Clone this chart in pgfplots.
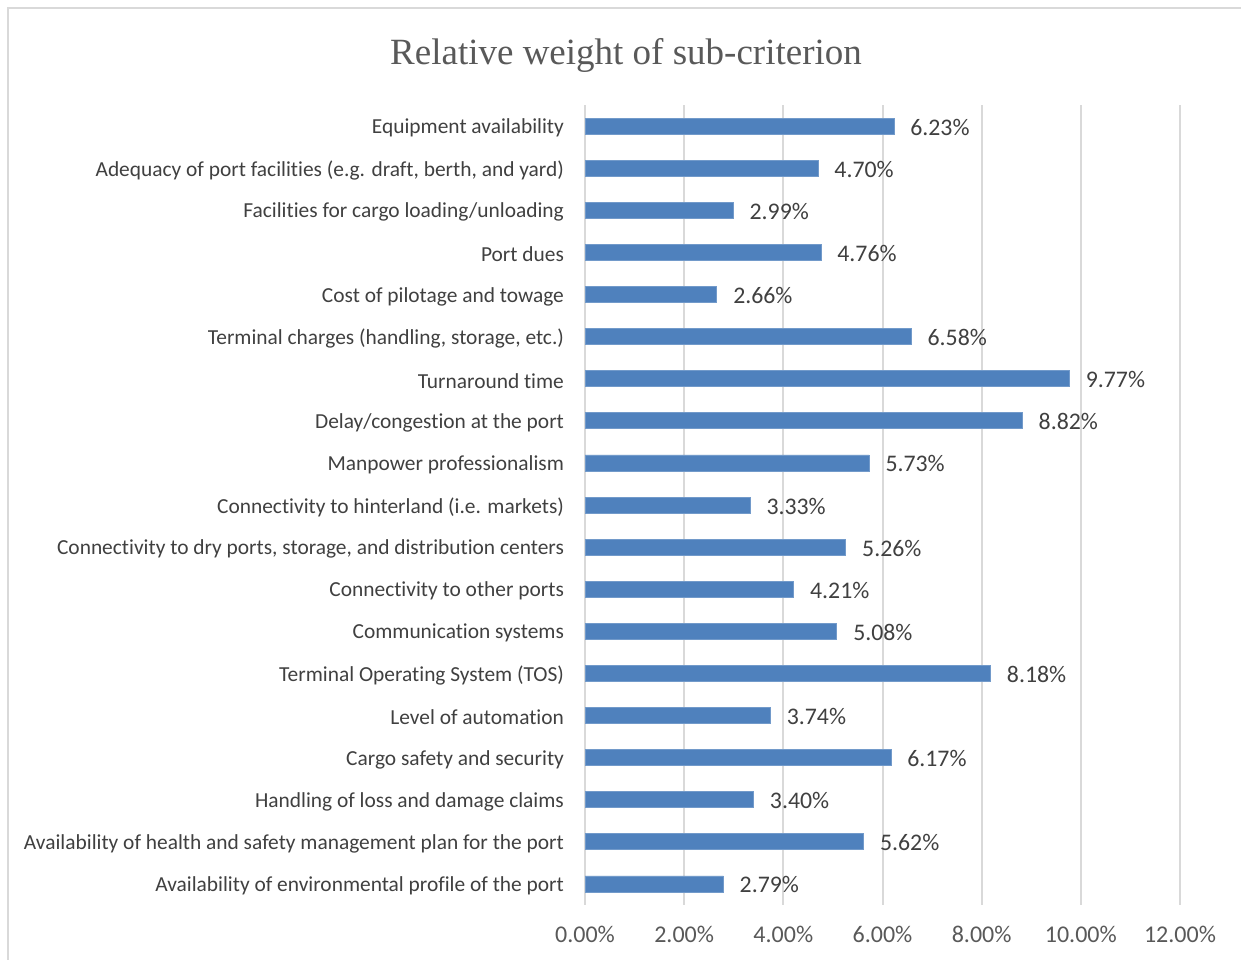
\documentclass[border=0pt]{standalone}
\usepackage{pgfplots}
\pgfplotsset{compat=1.18}
\usepackage{fontspec}
\setmainfont{Carlito}[Ligatures={NoCommon}]
\newfontfamily\titlefont{Liberation Serif}
\definecolor{barblue}{HTML}{4F81BD}
\definecolor{gridgray}{HTML}{D9D9D9}
\definecolor{txt}{HTML}{404040}
\definecolor{ttl}{HTML}{595959}
\pgfplotstableread{
y val lab
0 6.23 6.23\%
1 4.70 4.70\%
2 2.99 2.99\%
3 4.76 4.76\%
4 2.66 2.66\%
5 6.58 6.58\%
6 9.77 9.77\%
7 8.82 8.82\%
8 5.73 5.73\%
9 3.33 3.33\%
10 5.26 5.26\%
11 4.21 4.21\%
12 5.08 5.08\%
13 8.18 8.18\%
14 3.74 3.74\%
15 6.17 6.17\%
16 3.40 3.40\%
17 5.62 5.62\%
18 2.79 2.79\%
}\datatable
\begin{document}
\begin{tikzpicture}
\useasboundingbox (0,0) rectangle (620.5pt,479.5pt);
\fill[white] (0,0) rectangle (620.5pt,479.5pt);
\draw[gridgray, line width=0.9pt] (4pt,-10pt) -- (4pt,475.5pt) -- (630pt,475.5pt);
\node[font=\titlefont\fontsize{18.5}{20}\selectfont, text=ttl] at (313pt,452pt) {Relative weight of sub-criterion};
\begin{axis}[
  at={(292.5pt,27pt)}, anchor=south west,
  scale only axis, width=297.5pt, height=400pt,
  xmin=0, xmax=12, ymin=-0.5, ymax=18.5,
  y dir=reverse,
  xbar, bar width=0.38,
  axis line style={draw=none},
  major tick length=0pt,
  xmajorgrids, major grid style={gridgray, line width=1pt},
  xtick={0,2,...,12},
  xticklabels={0.00\%,2.00\%,4.00\%,6.00\%,8.00\%,10.00\%,12.00\%},
  xticklabel style={font=\fontsize{12}{13}\selectfont, text=ttl, yshift=-7pt},
  ytick={0,...,18},
  yticklabels={Equipment availability,
    {Adequacy of port facilities (e.g. draft, berth, and yard)},
    Facilities for cargo loading/unloading,
    Port dues,
    Cost of pilotage and towage,
    {Terminal charges (handling, storage, etc.)},
    Turnaround time,
    Delay/congestion at the port,
    Manpower professionalism,
    Connectivity to hinterland (i.e. markets),
    {Connectivity to dry ports, storage, and distribution centers},
    Connectivity to other ports,
    Communication systems,
    Terminal Operating System (TOS),
    Level of automation,
    Cargo safety and security,
    Handling of loss and damage claims,
    Availability of health and safety management plan for the port,
    Availability of environmental profile of the port},
  yticklabel style={font=\fontsize{10.7}{12}\selectfont, text=txt, xshift=-7pt, yshift=-1pt},
  nodes near coords,
  point meta=explicit symbolic,
  every node near coord/.append style={font=\fontsize{11.9}{13}\selectfont, text=txt, anchor=west, inner sep=0pt, xshift=8pt, yshift=-0.5pt},
  clip=false,
]
\addplot[fill=barblue, draw=barblue!80!white, line width=0.4pt] table[x=val, y=y, meta=lab] {\datatable};
\end{axis}
\end{tikzpicture}
\end{document}
